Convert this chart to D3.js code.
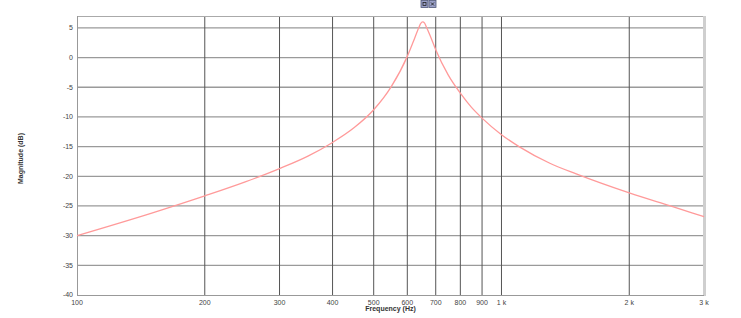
<!DOCTYPE html>
<html>
<head>
<meta charset="utf-8">
<script src="https://cdn.jsdelivr.net/npm/d3@7"></script>
<style>
  html, body { margin: 0; padding: 0; background: #ffffff; }
  svg { display: block; }
</style>
</head>
<body>
<svg id="chart" width="741" height="318"></svg>
<script>
// ---- data ----
const freqs = [100, 150, 200, 250, 300, 350, 400, 450, 500, 550, 600, 620, 640, 645, 652, 659, 665, 680, 700, 750, 800, 850, 900, 1000, 1100, 1300, 1500, 2000, 2500, 3000];
const magnitudes = [-30.0, -26.2, -23.3, -20.9, -18.7, -16.6, -14.3, -11.8, -8.8, -4.9, 0.2, 2.7, 5.2, 5.7, 6.0, 5.8, 5.2, 3.6, 1.3, -3.0, -6.0, -8.4, -10.2, -13.0, -15.0, -17.8, -19.6, -22.8, -25.0, -26.8];
const xTickValues = [100, 200, 300, 400, 500, 600, 700, 800, 900, 1000, 2000, 3000];
const xTickLabels = ["100", "200", "300", "400", "500", "600", "700", "800", "900", "1 k", "2 k", "3 k"];
const yTickValues = [5, 0, -5, -10, -15, -20, -25, -30, -35, -40];
const xTitle = "Frequency (Hz)";
const yTitle = "Magnitude (dB)";

(function () {
// ---- layout ----
const svg = d3.select("#chart");
const pLeft = 77, pRight = 704, pTop = 16, pBottom = 295;

const x = d3.scaleLog().domain([100, 3000]).range([pLeft, pRight]);
const y = d3.scaleLinear().domain([-40, 7]).range([pBottom, pTop]);

// horizontal grid
svg.append("g").selectAll("line").data(yTickValues.filter(v => v > -40)).join("line")
  .attr("x1", pLeft).attr("x2", pRight)
  .attr("y1", d => y(d)).attr("y2", d => y(d))
  .attr("stroke", "#9a9a9a").attr("stroke-width", 1.3);

// vertical grid
svg.append("g").selectAll("line").data(xTickValues.slice(1, -1)).join("line")
  .attr("x1", d => x(d)).attr("x2", d => x(d))
  .attr("y1", pTop).attr("y2", pBottom)
  .attr("stroke", "#555").attr("stroke-width", 1);

// frame
svg.append("line").attr("x1", pLeft).attr("x2", pRight).attr("y1", pTop + 0.5).attr("y2", pTop + 0.5)
  .attr("stroke", "#aaa").attr("stroke-width", 1);
svg.append("line").attr("x1", pRight + 0.5).attr("x2", pRight + 0.5).attr("y1", pTop).attr("y2", pBottom + 1)
  .attr("stroke", "#cfcfcf").attr("stroke-width", 3);
svg.append("line").attr("x1", pLeft + 0.5).attr("x2", pLeft + 0.5).attr("y1", pTop).attr("y2", pBottom + 1)
  .attr("stroke", "#999").attr("stroke-width", 1);
svg.append("line").attr("x1", pLeft).attr("x2", pRight).attr("y1", pBottom + 0.5).attr("y2", pBottom + 0.5)
  .attr("stroke", "#999").attr("stroke-width", 1);

// curve
const pts = freqs.map((f, i) => [f, magnitudes[i]]);
svg.append("path").datum(pts)
  .attr("fill", "none")
  .attr("stroke", "#ff9a9a")
  .attr("stroke-width", 1.3)
  .attr("d", d3.line().x(d => x(d[0])).y(d => y(d[1])).curve(d3.curveMonotoneX));

// axes labels
const font = "Arial, 'Liberation Sans', sans-serif";
svg.append("g").selectAll("text").data(yTickValues).join("text")
  .attr("x", 73).attr("y", d => y(d)).attr("dy", "0.35em")
  .attr("text-anchor", "end")
  .attr("font-family", font).attr("font-size", 7).attr("fill", "#444")
  .text(d => d);

svg.append("g").selectAll("text").data(xTickValues).join("text")
  .attr("x", d => x(d)).attr("y", 305)
  .attr("text-anchor", "middle")
  .attr("font-family", font).attr("font-size", 7).attr("fill", "#444")
  .text((d, i) => xTickLabels[i]);

svg.append("text")
  .attr("x", (pLeft + pRight) / 2).attr("y", 311)
  .attr("text-anchor", "middle")
  .attr("font-family", font).attr("font-size", 7).attr("font-weight", "bold").attr("fill", "#333")
  .text(xTitle);

svg.append("text")
  .attr("transform", `translate(23, ${(pTop + pBottom) / 2 + 3}) rotate(-90)`)
  .attr("text-anchor", "middle")
  .attr("font-family", font).attr("font-size", 7).attr("font-weight", "bold").attr("fill", "#333")
  .text(yTitle);

// small window buttons at top
const btn = svg.append("g");
[421, 429].forEach((bx, i) => {
  btn.append("rect").attr("x", bx).attr("y", 0.5).attr("width", 7).attr("height", 7)
    .attr("fill", "#9aa0c8").attr("stroke", "#505878").attr("stroke-width", 0.8);
  if (i === 0) {
    btn.append("rect").attr("x", bx + 2).attr("y", 2.5).attr("width", 3).attr("height", 3)
      .attr("fill", "none").attr("stroke", "#222").attr("stroke-width", 0.8);
  } else {
    btn.append("path").attr("d", `M${bx + 2},2.5 L${bx + 5},5.5 M${bx + 5},2.5 L${bx + 2},5.5`)
      .attr("stroke", "#222").attr("stroke-width", 0.9);
  }
});
})();
</script>
</body>
</html>
